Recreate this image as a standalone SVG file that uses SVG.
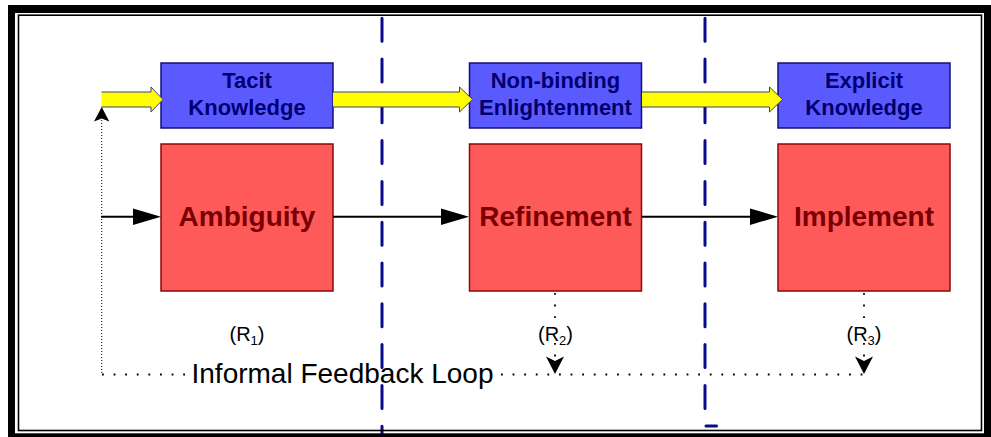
<svg xmlns="http://www.w3.org/2000/svg" width="991" height="437" viewBox="0 0 991 437">
<style>
.blue{fill:#5a5aff;stroke:#10107a;stroke-width:1.5}
.red{fill:#ff5a5a;stroke:#8a0a0a;stroke-width:1.5}
.bt{font-family:"Liberation Sans",Arial,sans-serif;font-weight:bold;font-size:22px;fill:#000070;text-anchor:middle}
.rt{font-family:"Liberation Sans",Arial,sans-serif;font-weight:bold;font-size:28px;fill:#7a0000;text-anchor:middle}
.lbl{font-family:"Liberation Sans",Arial,sans-serif;font-size:20px;fill:#000;text-anchor:middle}
.yel{fill:#ffff00;stroke:#3c3c8c;stroke-width:1}
.dash{stroke:#0a0a8c;stroke-width:3;stroke-linecap:round;stroke-dasharray:23 17.8;fill:none}
.dots{stroke:#000;stroke-width:1.8;stroke-dasharray:1.8 9.8;fill:none}
.fine{stroke:#000;stroke-width:1;stroke-dasharray:1 2;fill:none}
</style>
<rect width="991" height="437" fill="#fff"/>
<g id="dividers">
<line class="dash" x1="382" y1="18.2" x2="382" y2="437"/>
<line class="dash" x1="705" y1="18.2" x2="705" y2="409"/>
<line x1="706" y1="426" x2="716.5" y2="426" stroke="#0a0a8c" stroke-width="3" stroke-linecap="round"/>
</g>
<g id="tacit">
<rect class="blue" x="161" y="63" width="172" height="65"/>
<text class="bt" x="247" y="88">Tacit</text>
<text class="bt" x="247" y="114.5">Knowledge</text>
</g>
<g id="nonbinding">
<rect class="blue" x="469.5" y="63" width="172" height="65"/>
<text class="bt" x="555.5" y="88">Non-binding</text>
<text class="bt" x="555.5" y="114.5">Enlightenment</text>
</g>
<g id="explicit">
<rect class="blue" x="778" y="63" width="172" height="65"/>
<text class="bt" x="864" y="88">Explicit</text>
<text class="bt" x="864" y="114.5">Knowledge</text>
</g>
<g id="ambiguity">
<rect class="red" x="161" y="144" width="172" height="147"/>
<text class="rt" x="247" y="226">Ambiguity</text>
</g>
<g id="refinement">
<rect class="red" x="469.5" y="144" width="172" height="147"/>
<text class="rt" x="555.5" y="226">Refinement</text>
</g>
<g id="implement">
<rect class="red" x="778" y="144" width="172" height="147"/>
<text class="rt" x="864" y="226">Implement</text>
</g>
<g id="connectors">
<path class="yel" d="M101.5,107 H151 V112 L163,99.5 L151,87 V92 H101.5"/>
<path class="yel" d="M333,107 H459.5 V112 L472.5,99.5 L459.5,87 V92 H333"/>
<path class="yel" d="M642,107 H769.5 V112 L782.5,99.5 L769.5,87 V92 H642"/>
<line x1="101" y1="216.7" x2="135" y2="216.7" stroke="#000" stroke-width="2"/>
<path d="M133,208.5 L161,216.7 L133,225 Z" fill="#000"/>
<line x1="333" y1="216.7" x2="443" y2="216.7" stroke="#000" stroke-width="2"/>
<path d="M441,208.5 L469,216.7 L441,225 Z" fill="#000"/>
<line x1="642" y1="216.7" x2="752" y2="216.7" stroke="#000" stroke-width="2"/>
<path d="M750,208.5 L778,216.7 L750,225 Z" fill="#000"/>
<line class="fine" x1="101.7" y1="120" x2="101.7" y2="374.5"/>
<path d="M94,121.5 L101.7,118.5 L109.3,121.5 L101.7,107 Z" fill="#000"/>
<line class="dots" x1="102" y1="374.5" x2="188" y2="374.5"/>
<line class="dots" x1="501" y1="374.5" x2="866" y2="374.5"/>
<line class="dots" x1="555" y1="293" x2="555" y2="324"/>
<line class="dots" x1="555" y1="343" x2="555" y2="358"/>
<path d="M546,356.5 L555,361 L564,356.5 L555,374 Z" fill="#000"/>
<line class="dots" x1="864" y1="293" x2="864" y2="324"/>
<line class="dots" x1="864" y1="343" x2="864" y2="358"/>
<path d="M855,356.5 L864,361 L873,356.5 L864,374 Z" fill="#000"/>
</g>
<g id="labels">
<text class="lbl" x="247" y="341">(R<tspan font-size="13" dy="4">1</tspan><tspan dy="-4">)</tspan></text>
<text class="lbl" x="555.5" y="341">(R<tspan font-size="13" dy="4">2</tspan><tspan dy="-4">)</tspan></text>
<text class="lbl" x="864" y="341">(R<tspan font-size="13" dy="4">3</tspan><tspan dy="-4">)</tspan></text>
<text x="191.5" y="382.7" font-family="Liberation Sans, Arial, sans-serif" font-size="28" fill="#000">Informal Feedback Loop</text>
</g>
<g id="frame">
<rect x="8" y="5" width="983" height="8" fill="#000"/>
<rect x="8" y="5" width="7" height="432" fill="#000"/>
<rect x="8" y="433.3" width="983" height="4" fill="#000"/>
<rect x="984" y="5" width="7" height="432" fill="#000"/>
<rect x="18.5" y="15.2" width="963" height="415.3" fill="none" stroke="#000" stroke-width="1.6"/>
</g>
</svg>
